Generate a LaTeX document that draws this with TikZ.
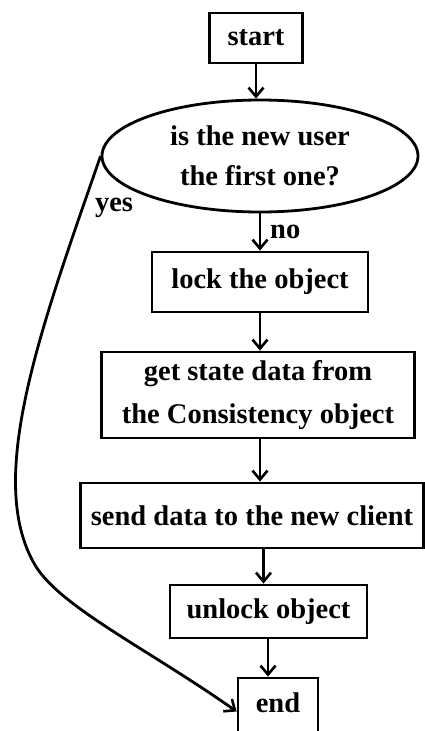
\documentclass[tikz,border=0pt]{standalone}
\usepackage{fontspec}
\setmainfont{Liberation Serif}
\usetikzlibrary{shapes.geometric,arrows.meta}
\begin{document}
\begin{tikzpicture}[x=1pt,y=-1pt,
  txt/.style={font=\bfseries\fontsize{28.5}{40}\selectfont, inner sep=0pt},
  box/.style={txt, draw, rectangle, line width=2.8pt, align=center},
  decision/.style={txt, draw, ellipse, line width=2.8pt, align=center},
  arr/.style={line width=2.8pt, -{Straight Barb[length=9pt,width=15pt,line width=2.6pt]}}
]
\useasboundingbox (0,0) rectangle (425,731);
\clip (0,0) rectangle (425,731);

% process steps
\node[box, minimum width=93pt, minimum height=50pt] (start) at (256,38) {start};
\node[decision, minimum width=316pt, minimum height=112pt] (q) at (260,156)
  {is the new user\\the first one?};
\node[box, minimum width=216pt, minimum height=60pt] (lock) at (260,282) {lock the object};
\node[box, minimum width=313pt, minimum height=86pt] (get) at (258,395)
  {get state data from\\[3pt]the Consistency object};
\node[box, minimum width=343pt, minimum height=65pt] (send) at (252,515.5)
  {send data to the new client};
\node[box, minimum width=197pt, minimum height=53pt] (unlock) at (268.5,611.5) {unlock object};
\node[box, minimum width=80pt, text height=34pt, text depth=33pt, anchor=base] (end) at (278,712) {end};

% branch labels
\node[txt, anchor=west] (no) at (270,232) {no};
\node[txt] (yes) at (114,208) {yes};

% main flow
\draw[arr] (start.south) -- (start.south |- q.north);
\draw[arr] (q.south) -- (lock.north);
\draw[arr] (lock.south) -- (lock.south |- get.north);
\draw[arr] (lock.south |- get.south) -- (lock.south |- send.north);
\draw[arr] ([xshift=-5pt]unlock.north |- send.south) -- ([xshift=-5pt]unlock.north);
\draw[arr] ([xshift=-10pt]end.north |- unlock.south) -- ([xshift=-10pt]end.north);

% "yes" branch straight to the end
\coordinate (bend) at (35,565);
\draw[arr] (q.west) .. controls (40,330) and (-15,480) .. (bend)
  .. controls (60,607) and (148,649) .. (end.west);
\end{tikzpicture}
\end{document}
